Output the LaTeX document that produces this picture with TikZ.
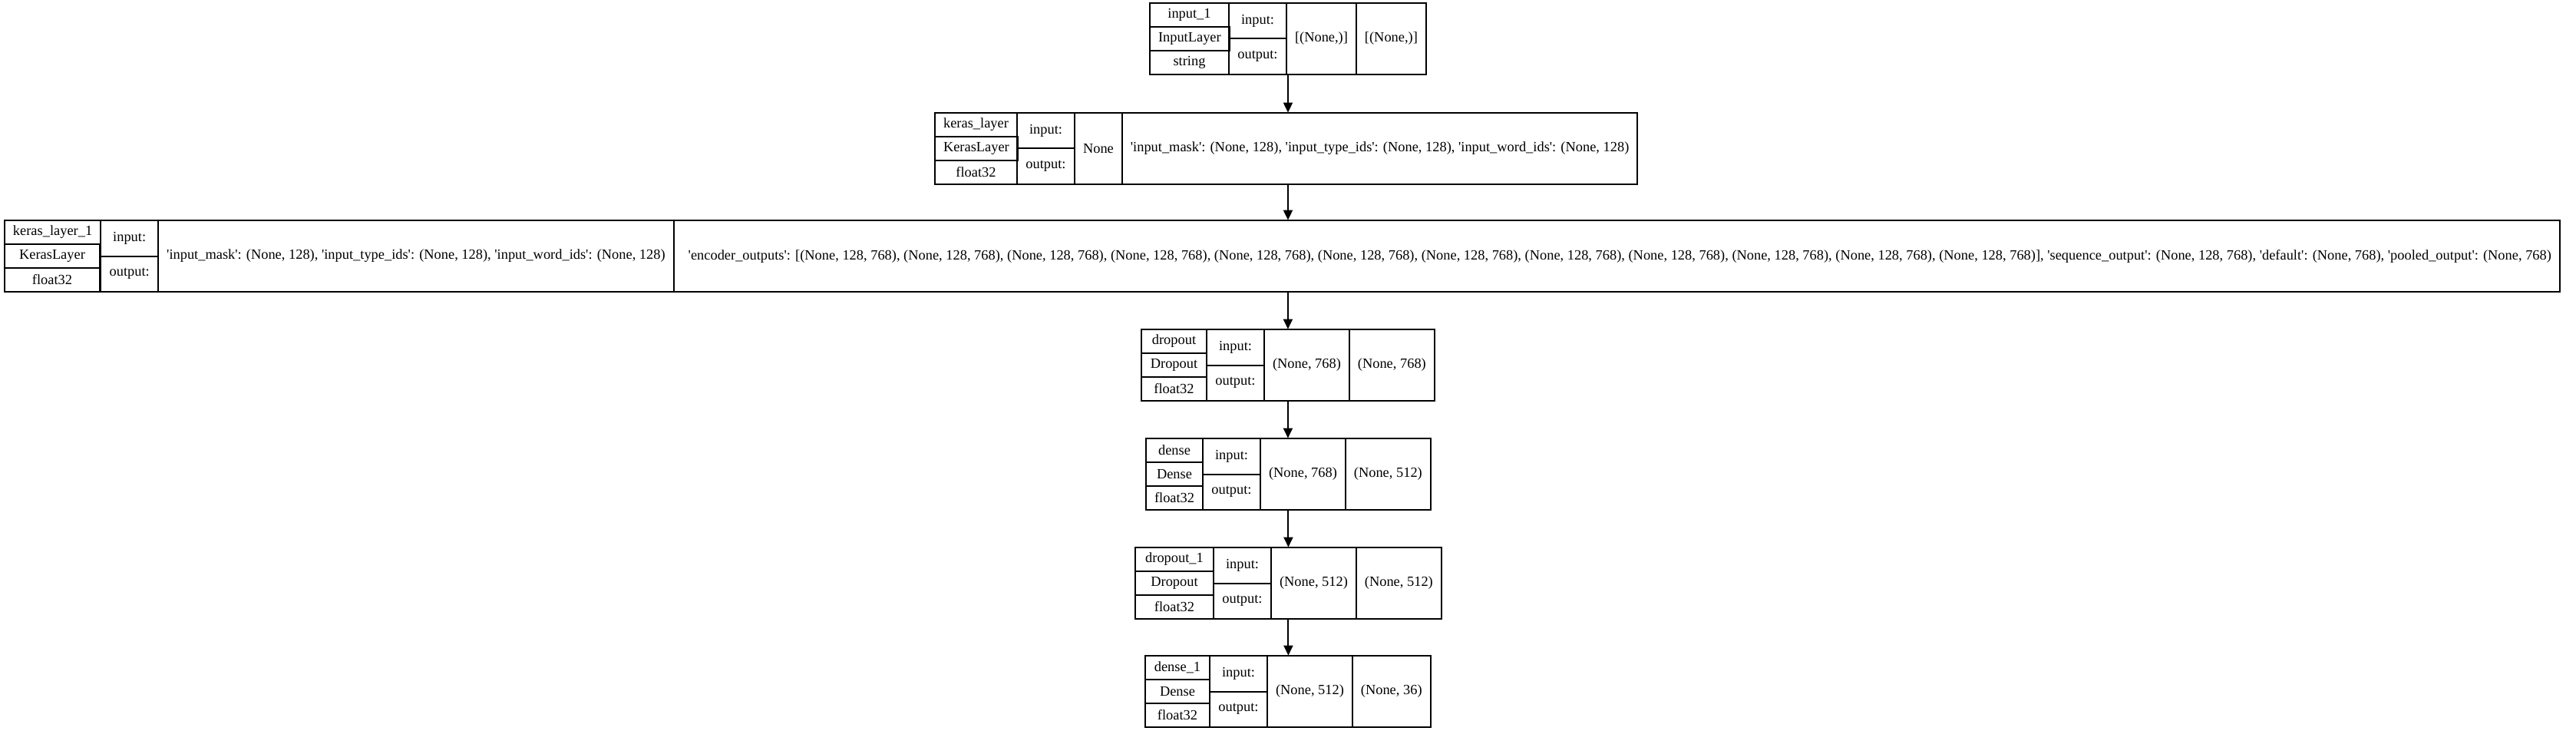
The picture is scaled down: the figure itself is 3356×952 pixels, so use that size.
\documentclass[tikz,border=0pt]{standalone}
\usepackage{fontspec}
\newfontfamily\kerasfont{Liberation Serif}
\usetikzlibrary{arrows.meta, fit}

\newcommand\q{\textquotesingle}
\newcommand\seqshape{(None, 128, 768)}
\newcommand\wordids{\q input\_mask\q: (None, 128), \q input\_type\_ids\q: (None, 128), \q input\_word\_ids\q: (None, 128)}

% one layer box: id, left, top, name column width (px), name, class, dtype, input shape, output shape
\newcommand\kblock[9]{%
  \node[namecell, minimum width=#4*0.5pt] (#1-name) at (#2,#3) {#5};
  \node[namecell, minimum width=#4*0.5pt] (#1-class) at (#1-name.south west) {#6};
  \node[namecell, minimum width=#4*0.5pt] (#1-dtype) at (#1-class.south west) {#7};
  \node[iocell] (#1-inlbl) at (#1-name.north east) {input:};
  \node[iocell] (#1-outlbl) at (#1-inlbl.south west) {output:};
  \node[shapecell] (#1-in) at (#1-inlbl.north east) {#8};
  \node[shapecell] (#1-out) at (#1-in.north east) {#9};
  \node[fit=(#1-name)(#1-out), inner sep=0pt] (#1) {};
}

\begin{document}
\begin{tikzpicture}[x=0.5pt, y=-0.5pt,
    cell/.style={draw, line width=1pt, inner xsep=5.5pt, inner ysep=0pt, outer sep=0pt,
      anchor=north west, font=\kerasfont\fontsize{9.2}{11}\selectfont},
    namecell/.style={cell, minimum height=15.5pt},
    iocell/.style={cell, minimum height=23.25pt, minimum width=37.5pt},
    shapecell/.style={cell, minimum height=46.5pt},
    flow/.style={-{Triangle[length=6.5pt, width=6pt]}, line width=1pt}]
  \fill[white] (0,0) rectangle (3356,952);
  \useasboundingbox (0,0) rectangle (3356,952);

  \kblock{input1}{1498}{4}{103}{input\_1}{InputLayer}{string}{[(None,)]}{[(None,)]}
  \kblock{keras}{1218}{147}{107}{keras\_layer}{KerasLayer}{float32}{None}{\wordids}
  \kblock{keras1}{6}{287}{124}{keras\_layer\_1}{KerasLayer}{float32}{\wordids}{\hspace{4pt}\q encoder\_outputs\q: [\seqshape, \seqshape, \seqshape, \seqshape, \seqshape, \seqshape, \seqshape, \seqshape, \seqshape, \seqshape, \seqshape, \seqshape], \q sequence\_output\q: \seqshape, \q default\q: (None, 768), \q pooled\_output\q: (None, 768)\hspace{4pt}}
  \kblock{drop}{1487}{429}{85}{dropout}{Dropout}{float32}{(None, 768)}{(None, 768)}
  \kblock{dense}{1493}{571}{74}{dense}{Dense}{float32}{(None, 768)}{(None, 512)}
  \kblock{drop1}{1479}{713}{102}{dropout\_1}{Dropout}{float32}{(None, 512)}{(None, 512)}
  \kblock{dense1}{1492}{854}{84}{dense\_1}{Dense}{float32}{(None, 512)}{(None, 36)}

  \draw[flow] (input1.south) -- (input1.south |- keras.north);
  \draw[flow] (input1.south |- keras.south) -- (input1.south |- keras1.north);
  \draw[flow] (drop.north |- keras1.south) -- (drop.north);
  \draw[flow] (drop.south) -- (drop.south |- dense.north);
  \draw[flow] (dense.south) -- (dense.south |- drop1.north);
  \draw[flow] (drop1.south) -- (drop1.south |- dense1.north);
\end{tikzpicture}
\end{document}
